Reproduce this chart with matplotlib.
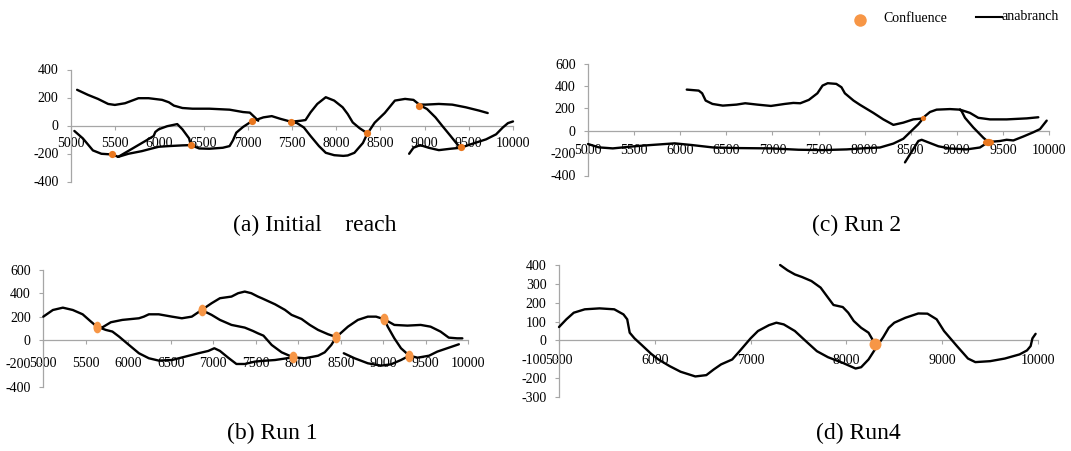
import matplotlib
matplotlib.use("Agg")
import matplotlib.pyplot as plt
from matplotlib.lines import Line2D
from matplotlib.markers import MarkerStyle
from matplotlib.transforms import Affine2D

plt.rcParams['font.family'] = ['Liberation Serif', 'DejaVu Serif']

# ---------------- data: panel (a) Initial reach ----------------
a_upper_x = [5069, 5191, 5305, 5420, 5496, 5611, 5763, 5878, 6031, 6107, 6164, 6260, 6374, 6565, 6794, 6947, 7023, 7080, 7118]
a_upper_y = [255, 219, 190, 154, 147, 159, 195, 195, 183, 166, 142, 125, 120, 120, 113, 96, 92, 58, 34]
a_left_x = [5038, 5134, 5248, 5344, 5466, 5534]
a_left_y = [-39, -92, -178, -202, -207, -224]
a_hump_x = [5534, 5840, 5935, 5954, 5992, 6088, 6202, 6260, 6336, 6355]
a_hump_y = [-224, -111, -75, -46, -27, -5, 10, -27, -92, -140]
a_low1_x = [5534, 5649, 5802, 5916, 5992, 6107, 6260, 6355]
a_low1_y = [-224, -202, -183, -164, -152, -147, -142, -140]
a_mid_x = [6355, 6450, 6565, 6717, 6794, 6832, 6870, 6947, 7042, 7176, 7271, 7367, 7489]
a_mid_y = [-140, -164, -166, -159, -147, -106, -51, -10, 29, 58, 67, 48, 27]
a_up2_x = [7489, 7600, 7653, 7710, 7786, 7882, 7977, 8073, 8130, 8187, 8264, 8351]
a_up2_y = [27, 34, 39, 94, 154, 202, 178, 130, 82, 22, -19, -55]
a_dn2_x = [7489, 7557, 7634, 7710, 7805, 7882, 7977, 8080, 8130, 8206, 8302, 8351, 8435, 8550, 8664, 8779, 8874, 8931]
a_dn2_y = [27, 17, -14, -75, -147, -195, -212, -217, -214, -195, -125, -60, 20, 90, 178, 190, 183, 154]
a_flat_x = [8931, 9008, 9161, 9313, 9466, 9619, 9714]
a_flat_y = [150, 149, 154, 149, 130, 106, 89]
a_steep_x = [8931, 9027, 9123, 9199, 9294, 9370, 9409]
a_steep_y = [150, 118, 58, -2, -75, -135, -159]
a_tail_x = [9409, 9542, 9695, 9809, 9885, 9943, 10000]
a_tail_y = [-159, -130, -99, -63, -14, 17, 29]
a_low2_x = [8825, 8874, 8950, 9046, 9161, 9294, 9409]
a_low2_y = [-202, -159, -140, -159, -176, -166, -159]
a_conf_x = [5466, 6355, 7042, 7489, 8351, 8931, 9409]
a_conf_y = [-207, -140, 29, 27, -55, 142, -152]

# ---------------- data: panel (b) Run 1 ----------------
b_start_x = [5000, 5113, 5230, 5347, 5463, 5561, 5631]
b_start_y = [200, 257, 277, 257, 220, 157, 114]
b_up1_x = [5631, 5697, 5795, 5930, 6125, 6183, 6242, 6358, 6513, 6630, 6747, 6863]
b_up1_y = [114, 109, 152, 172, 186, 200, 220, 220, 200, 186, 200, 257]
b_low1_x = [5631, 5736, 5813, 5891, 6008, 6125, 6242, 6358, 6513, 6670, 6825, 6942, 7012, 7078, 7175, 7272, 7370, 7487, 7570, 7726, 7940]
b_low1_y = [114, 86, 72, 29, -43, -114, -157, -177, -172, -143, -114, -94, -71, -94, -152, -206, -206, -186, -180, -172, -149]
b_top_x = [6863, 6980, 7078, 7214, 7292, 7370, 7447, 7525, 7570, 7726, 7843, 7921, 8038, 8135, 8233, 8350, 8447]
b_top_y = [257, 315, 358, 372, 401, 415, 401, 372, 358, 306, 258, 215, 180, 129, 86, 49, 25]
b_mid_x = [6863, 6980, 7078, 7214, 7370, 7467, 7525, 7590, 7687, 7804, 7940]
b_mid_y = [257, 215, 172, 129, 106, 77, 57, 37, -43, -106, -149]
b_bot2_x = [7940, 8077, 8233, 8311, 8388, 8447]
b_bot2_y = [-149, -157, -135, -106, -43, 25]
b_rise_x = [8447, 8584, 8701, 8818, 8915, 9013]
b_rise_y = [25, 114, 172, 200, 200, 177]
b_flat_x = [9013, 9130, 9284, 9440, 9556, 9673, 9770, 9868, 9930]
b_flat_y = [177, 129, 123, 129, 114, 72, 20, 14, 14]
b_down_x = [9013, 9052, 9130, 9208, 9306]
b_down_y = [177, 114, 14, -71, -135]
b_tail_x = [9306, 9403, 9538, 9635, 9752, 9889]
b_tail_y = [-135, -152, -135, -100, -71, -37]
b_lowp_x = [8535, 8662, 8818, 8973, 9090, 9208, 9306]
b_lowp_y = [-114, -157, -200, -220, -209, -172, -135]
b_conf_x = [5631, 6863, 7940, 8447, 9013, 9306]
b_conf_y = [114, 257, -146, 25, 177, -135]

# ---------------- data: panel (c) Run 2 ----------------
c_upper_x = [6071, 6201, 6238, 6276, 6350, 6462, 6611, 6705, 6835, 6984, 7134, 7227, 7302, 7395, 7488, 7544, 7600, 7693, 7749, 7786, 7880, 7950, 8095, 8203, 8312, 8420, 8528, 8637]
c_upper_y = [367, 358, 334, 269, 239, 224, 233, 245, 233, 221, 239, 248, 245, 275, 334, 403, 424, 418, 388, 334, 269, 231, 159, 101, 52, 72, 101, 110]
c_long_x = [5000, 5119, 5269, 5492, 5679, 5940, 6126, 6350, 6611, 6984, 7283, 7544, 7805, 8029, 8167, 8312, 8420, 8510, 8583, 8655, 8709, 8781, 8926, 9035]
c_long_y = [-119, -149, -158, -140, -128, -113, -128, -149, -155, -158, -170, -173, -167, -155, -150, -115, -72, 0, 58, 130, 167, 188, 193, 188]
c_flat_x = [9035, 9143, 9233, 9360, 9541, 9758, 9884]
c_flat_y = [188, 159, 115, 101, 101, 110, 120]
c_down_x = [9035, 9053, 9089, 9179, 9288, 9342]
c_down_y = [188, 173, 115, 29, -63, -101]
c_lowp_x = [8438, 8510, 8583, 8619, 8709, 8800, 8926, 9107, 9251, 9342]
c_lowp_y = [-283, -188, -92, -81, -110, -139, -159, -167, -150, -101]
c_tail_x = [9342, 9468, 9541, 9613, 9721, 9830, 9902, 9975]
c_tail_y = [-101, -92, -81, -87, -52, -14, 14, 90]
c_conf_small = (8637, 110)
c_conf_big = (9342, -101)

# ---------------- data: panel (d) Run4 ----------------
d_main_x = [5000, 5077, 5154, 5269, 5423, 5577, 5673, 5712, 5738, 5788, 5865, 5962, 6038, 6154, 6269, 6423, 6538, 6615, 6692, 6808, 6885, 7000, 7077, 7192, 7269, 7346, 7462, 7577, 7692, 7808, 7962, 8096, 8154, 8231, 8308, 8385, 8442, 8500, 8615, 8750, 8846, 8942, 9019, 9154, 9269, 9346, 9500, 9654, 9808, 9885, 9923, 9942, 9975]
d_main_y = [71, 112, 147, 165, 170, 165, 138, 112, 41, 11, -25, -71, -101, -136, -166, -191, -184, -154, -127, -101, -57, 11, 50, 81, 94, 85, 50, -4, -57, -89, -119, -149, -142, -101, -40, 18, 67, 94, 120, 143, 142, 112, 50, -30, -96, -115, -110, -96, -74, -53, -30, 11, 35]
d_up_x = [7308, 7385, 7462, 7538, 7635, 7731, 7808, 7865, 7962, 8019, 8077, 8154, 8231, 8300]
d_up_y = [400, 372, 350, 336, 315, 280, 227, 188, 177, 147, 103, 67, 41, -20]
d_conf = (8300, -20)

# ---------------- figure ----------------
W, H = 1071, 451
fig = plt.figure(figsize=(W / 100, H / 100), dpi=100)
fig.patch.set_facecolor('white')

AXC = '#A6A6A6'
LINE_KW = dict(color='black', lw=1.7, solid_capstyle='round', solid_joinstyle='round', zorder=3, clip_on=False)


def make_ax(l, r, t, b, ylim, yticks, xticks, xpad, ypad=6.0, fs=10):
    ax = fig.add_axes([l / W, 1 - b / H, (r - l) / W, (b - t) / H])
    ax.set_xlim(5000, 10000)
    ax.set_ylim(*ylim)
    ax.patch.set_alpha(0)
    for s in ('top', 'right'):
        ax.spines[s].set_visible(False)
    ax.spines['bottom'].set_position(('data', 0))
    for s in ('left', 'bottom'):
        ax.spines[s].set_color(AXC)
        ax.spines[s].set_linewidth(0.9)
    ax.set_xticks(xticks)
    ax.set_xticklabels([str(v) for v in xticks])
    ax.set_yticks(yticks)
    ax.set_yticklabels([str(v) for v in yticks])
    ax.tick_params(axis='x', direction='out', length=3, width=0.8, color=AXC, pad=xpad, labelsize=fs)
    ax.tick_params(axis='y', direction='out', length=3, width=0.8, color=AXC, pad=ypad, labelsize=fs)
    return ax


def draw(ax, xs, ys):
    ax.plot(xs, ys, **LINE_KW)


ORANGE_A = '#E9771E'
ORANGE_B = '#F79646'

# (a)
axa = make_ax(71, 513, 69.5, 181.5, (-400, 400), [-400, -200, 0, 200, 400], list(range(5000, 10001, 500)), 5.5)
for xs, ys in [(a_upper_x, a_upper_y), (a_left_x, a_left_y), (a_hump_x, a_hump_y), (a_low1_x, a_low1_y),
               (a_mid_x, a_mid_y), (a_up2_x, a_up2_y), (a_dn2_x, a_dn2_y), (a_flat_x, a_flat_y),
               (a_steep_x, a_steep_y), (a_tail_x, a_tail_y), (a_low2_x, a_low2_y)]:
    draw(axa, xs, ys)
axa.plot(a_conf_x, a_conf_y, ls='none', marker='o', ms=5.2, mfc=ORANGE_A, mec='none', zorder=4, clip_on=False)

# (c)
axc = make_ax(588, 1049, 63.5, 175.5, (-400, 600), [-400, -200, 0, 200, 400, 600], list(range(5000, 10001, 500)), 6.4)
for xs, ys in [(c_upper_x, c_upper_y), (c_long_x, c_long_y), (c_flat_x, c_flat_y), (c_down_x, c_down_y),
               (c_lowp_x, c_lowp_y), (c_tail_x, c_tail_y)]:
    draw(axc, xs, ys)
axc.plot([c_conf_small[0]], [c_conf_small[1]], ls='none', marker='o', ms=3.8, mfc=ORANGE_A, mec='none', zorder=4, clip_on=False)
axc.plot([c_conf_big[0]], [c_conf_big[1]], ls='none',
         marker=MarkerStyle('o', transform=Affine2D().scale(1.0, 0.66)), ms=8.0, mfc=ORANGE_A, mec='none', zorder=4, clip_on=False)

# (b)
axb = make_ax(43.3, 468.3, 270, 386.6, (-400, 600), [-400, -200, 0, 200, 400, 600], list(range(5000, 10001, 500)), 9.0)
for xs, ys in [(b_start_x, b_start_y), (b_up1_x, b_up1_y), (b_low1_x, b_low1_y), (b_top_x, b_top_y),
               (b_mid_x, b_mid_y), (b_bot2_x, b_bot2_y), (b_rise_x, b_rise_y), (b_flat_x, b_flat_y),
               (b_down_x, b_down_y), (b_tail_x, b_tail_y), (b_lowp_x, b_lowp_y)]:
    draw(axb, xs, ys)
axb.plot(b_conf_x, b_conf_y, ls='none', marker=MarkerStyle('o', transform=Affine2D().scale(0.7, 1.0)),
         ms=8.4, mfc=ORANGE_B, mec='none', zorder=4, clip_on=False)

# (d)
axd = make_ax(559, 1038, 265, 397, (-300, 400), list(range(-300, 401, 100)), list(range(5000, 10001, 1000)), 7.0)
draw(axd, d_main_x, d_main_y)
draw(axd, d_up_x, d_up_y)
axd.plot([d_conf[0]], [d_conf[1]], ls='none', marker='o', ms=8.6, mfc=ORANGE_B, mec='none', zorder=4, clip_on=False)

# captions
def ftext(x, y, s, **kw):
    fig.text(x / W, 1 - y / H, s, **kw)

ftext(315, 225, '(a) Initial    reach', fontsize=17, ha='center', va='center')
ftext(857, 225, '(c) Run 2', fontsize=17, ha='center', va='center')
ftext(272, 433, '(b) Run 1', fontsize=17, ha='center', va='center')
ftext(858, 433, '(d) Run4', fontsize=17, ha='center', va='center')

# legend
fig.add_artist(Line2D([860 / W], [1 - 20 / H], transform=fig.transFigure, ls='none', marker='o', ms=9,
                      mfc=ORANGE_B, mec='none'))
ftext(883, 19, 'Confluence', fontsize=10, ha='left', va='center')
fig.add_artist(Line2D([976 / W, 1002 / W], [1 - 17.3 / H, 1 - 17.3 / H], transform=fig.transFigure,
                      color='black', lw=1.5))
ftext(1002, 17, 'anabranch', fontsize=10, ha='left', va='center')

fig.savefig('out.png', dpi=100, facecolor='white')
